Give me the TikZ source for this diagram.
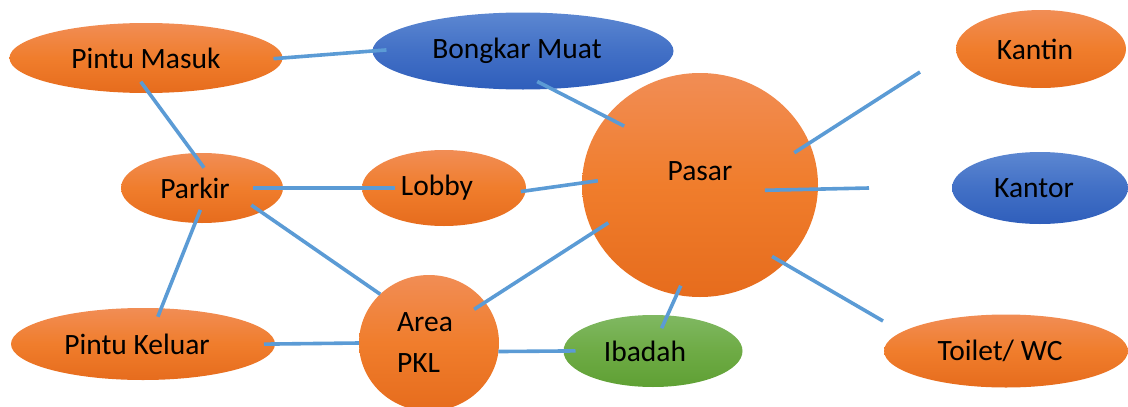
\documentclass[tikz,border=0pt]{standalone}
\usepackage{fontspec}
\setmainfont{Carlito}
\usetikzlibrary{shapes.geometric}

\definecolor{linkblue}{HTML}{5B9BD5}
\definecolor{orangetop}{HTML}{F18D55}
\definecolor{orangemid}{HTML}{F07D2C}
\definecolor{orangebot}{HTML}{E66C1D}
\definecolor{bluetop}{HTML}{5C87D1}
\definecolor{bluemid}{HTML}{4270C6}
\definecolor{bluebot}{HTML}{2F5EBB}
\definecolor{greentop}{HTML}{80B862}
\definecolor{greenmid}{HTML}{6EAB45}
\definecolor{greenbot}{HTML}{5FA034}

\begin{document}
\begin{tikzpicture}[x=1pt, y=-1pt,
  place/.style={ellipse, inner sep=0pt, outer sep=0pt, text=black,
    font=\fontsize{29.5}{41}\selectfont},
  orangeplace/.style={place, top color=orangetop, bottom color=orangebot, middle color=orangemid},
  blueplace/.style={place, top color=bluetop, bottom color=bluebot, middle color=bluemid},
  greenplace/.style={place, top color=greentop, bottom color=greenbot, middle color=greenmid},
  link/.style={draw=linkblue, line width=3.6pt},
]
\useasboundingbox (0,0) rectangle (1128,407);

% Define nodes
\path (146,58)
node[orangeplace, minimum width=273, minimum height=70] (masuk) {Pintu Masuk}
(523,51)
node[blueplace, minimum width=301, minimum height=77] (bongkar) {Bongkar Muat\kern12pt}
(202,188)
node[orangeplace, minimum width=162, minimum height=70] (parkir) {Parkir\kern14pt}
(444,188)
node[orangeplace, minimum width=164, minimum height=76] (lobby) {Lobby\kern14pt}
(700,185)
node[orangeplace, minimum width=236, minimum height=224] (pasar) {\raisebox{5pt}[0pt][0pt]{Pasar}}
(1041,49)
node[orangeplace, minimum width=170, minimum height=78] (kantin) {Kantin\kern12pt}
(1040,188)
node[blueplace, minimum width=176, minimum height=72] (kantor) {Kantor\kern12pt}
(1006,351)
node[orangeplace, minimum width=244, minimum height=73] (toilet) {Toilet/ WC\kern12pt}
(653,351)
node[greenplace, minimum width=179, minimum height=72] (ibadah) {Ibadah\kern16pt}
(429,343)
node[orangeplace, minimum width=140, minimum height=136, align=left] (pkl) {Area\kern8pt\\PKL}
(143,344)
node[orangeplace, minimum width=264, minimum height=72] (keluar) {Pintu Keluar\kern12pt}
(kantin) +(-121,23) coordinate (kantinend)
(kantor) +(-171,0) coordinate (kantorend)
(toilet) +(-123,-30) coordinate (toiletend)
;

% Links
\draw[link, shorten <=-9pt, shorten >=-14pt] (masuk.0) -- (bongkar.180);
\draw[link, shorten <=-16pt, shorten >=-20pt] (bongkar.-53) -- (pasar.144);
\draw[link, shorten <=-14pt, shorten >=-18pt] (masuk.-85) -- (parkir.104);
\draw[link, shorten <=-30pt, shorten >=-33pt] (parkir.0) -- (lobby.180);
\draw[link, shorten <=-5pt, shorten >=-16pt] (lobby.-2) -- (pasar.179);
\draw[link, shorten <=-12pt] (parkir.-22) -- (pkl.135);
\draw[link, shorten <=-14pt, shorten >=-9pt] (parkir.-101) -- (keluar.63);
\draw[link, shorten <=-11pt] (keluar.0) -- (pkl.180);
\draw[link, shorten <=-13pt, shorten >=-18pt] (pkl.36) -- (pasar.204);
\draw[link, shorten >=-12pt] (pkl.-7) -- (ibadah.180);
\draw[link, shorten <=-14pt, shorten >=-10pt] (ibadah.68) -- (pasar.-102);
\draw[link, shorten <=-18pt] (pasar.21) -- (kantinend);
\draw[link, shorten <=-53pt] (pasar.-2) -- (kantorend);
\draw[link, shorten <=-14pt] (pasar.-43) -- (toiletend);

\end{tikzpicture}
\end{document}
